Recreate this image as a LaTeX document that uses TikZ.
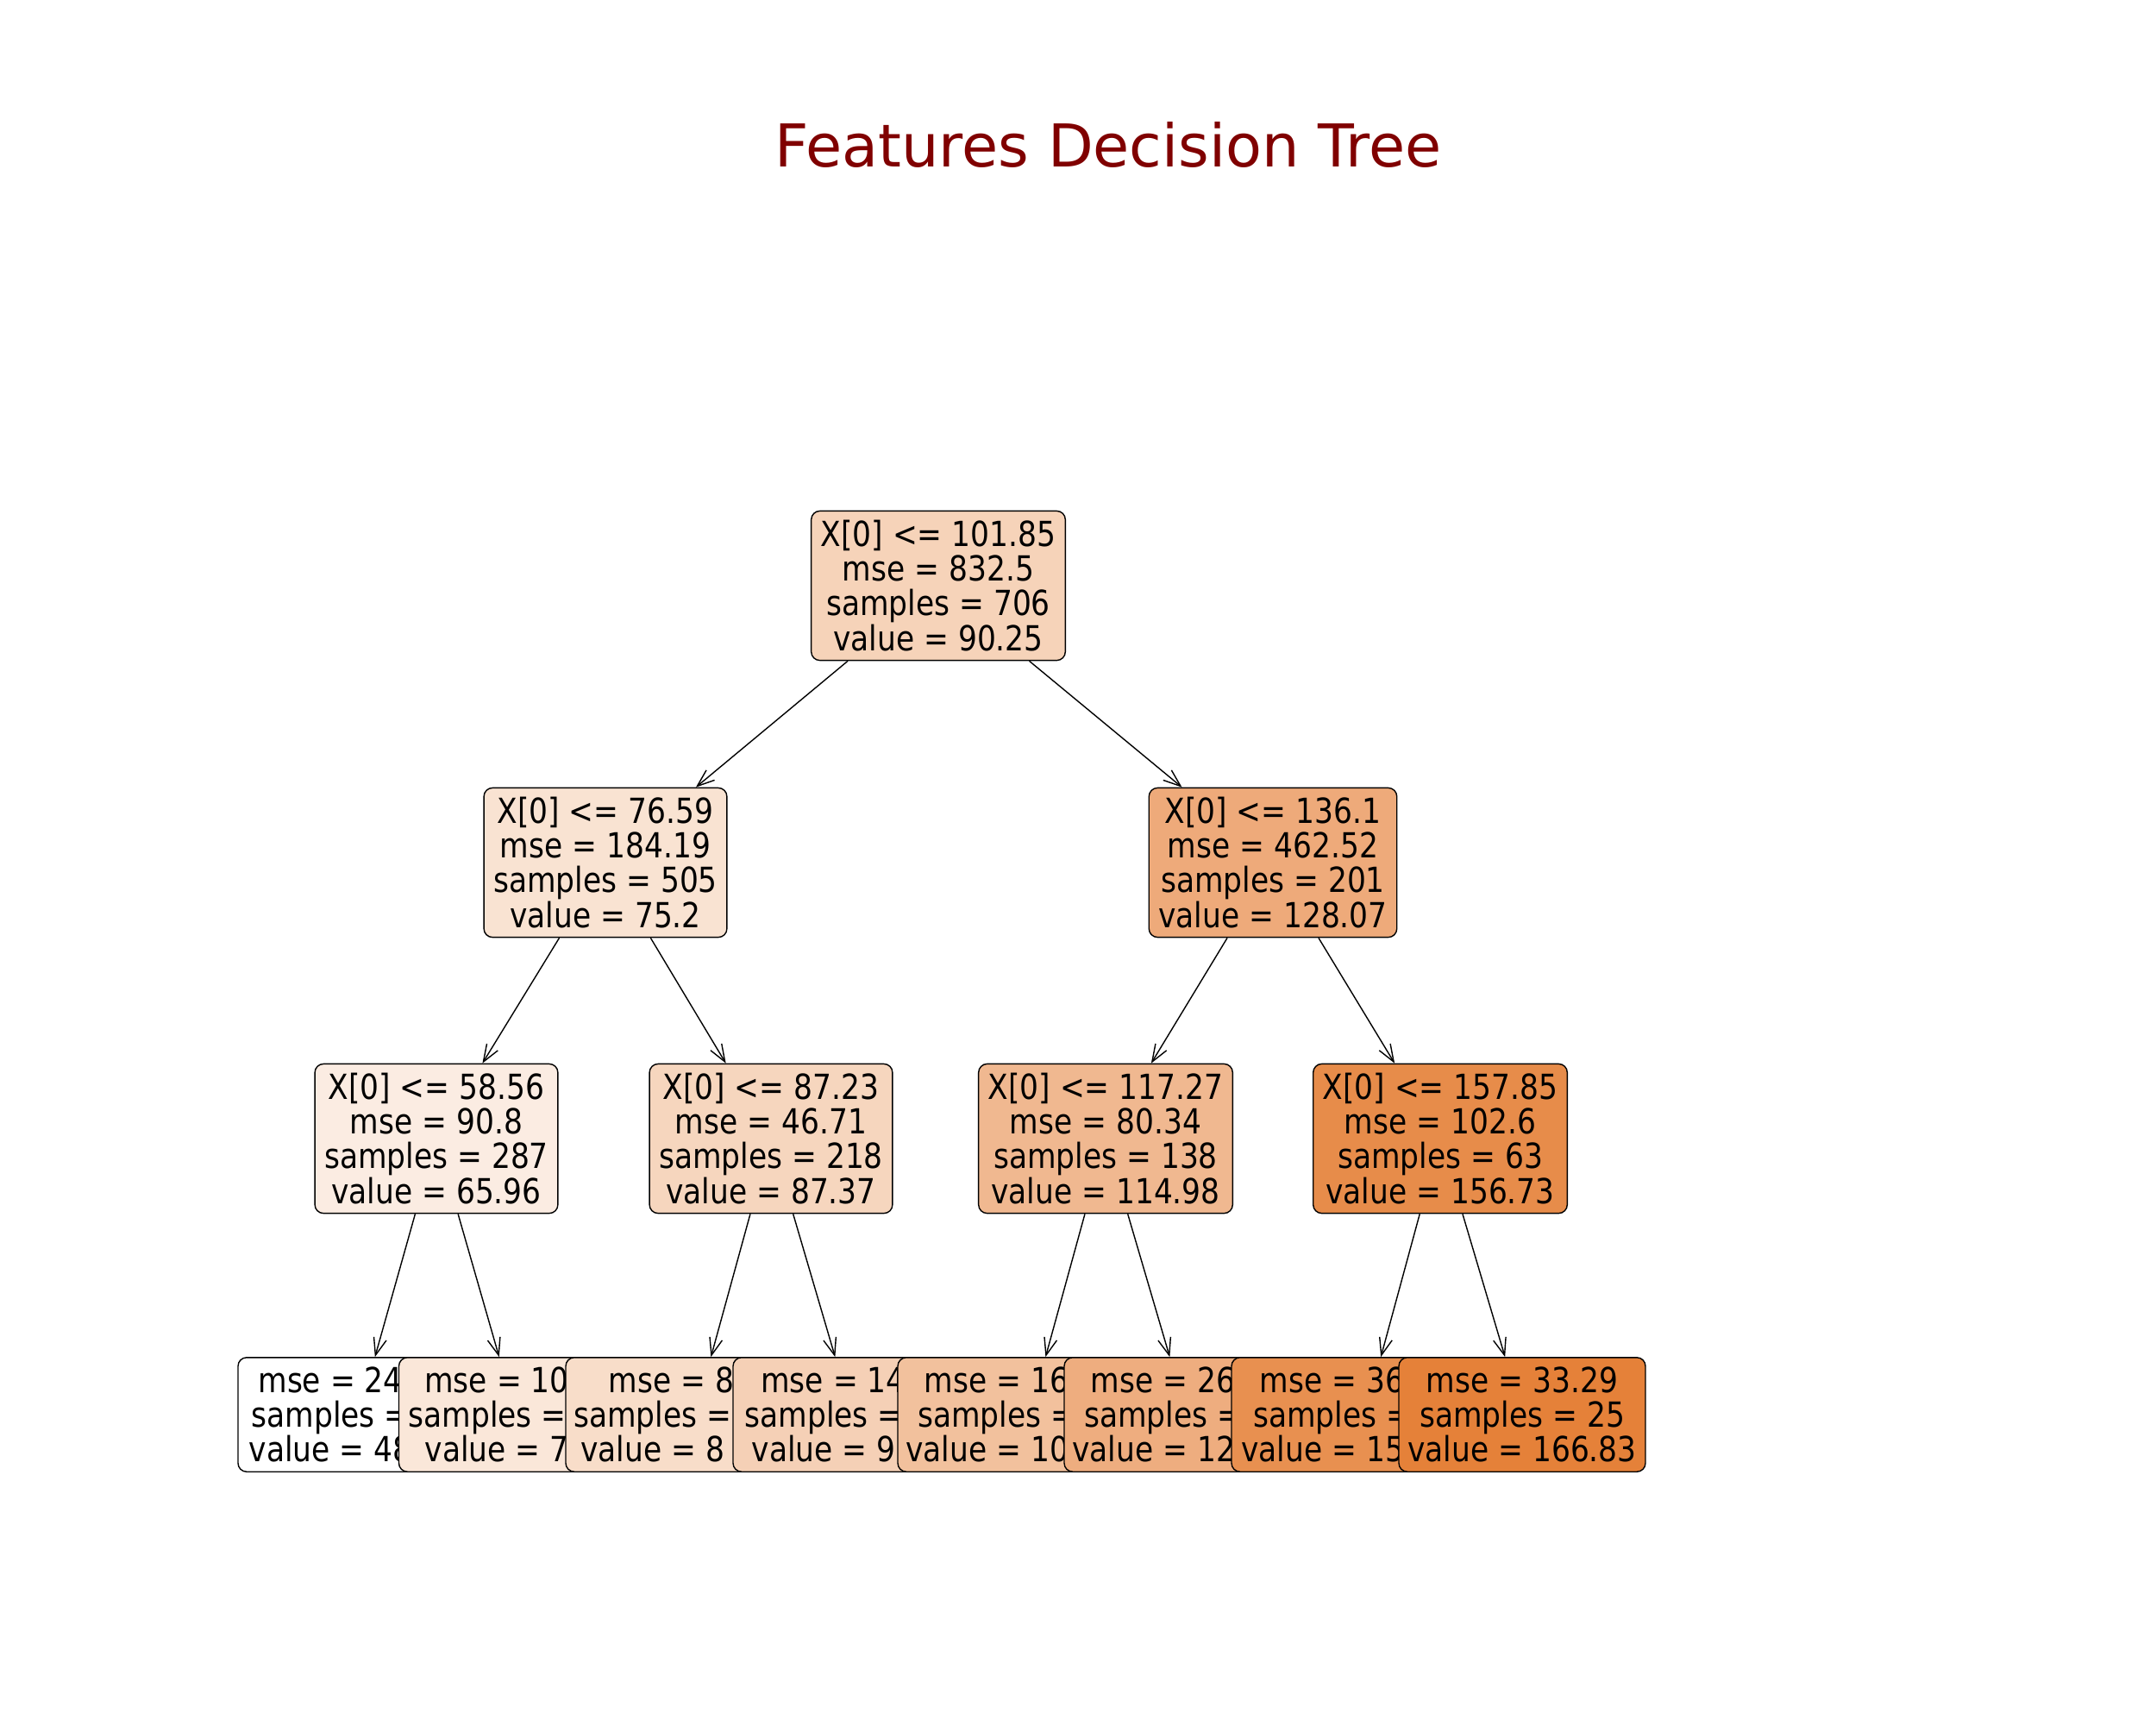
\documentclass[tikz,border=0pt]{standalone}
\usepackage{fontspec}
\setmainfont{DejaVu Sans}
\newfontfamily\treefont{DejaVu Sans}[FakeStretch=0.86]
\usepackage{tikz}
\usetikzlibrary{arrows.meta}
\definecolor{titlered}{RGB}{128,0,0}
\definecolor{cRoot}{RGB}{246,211,185}
\definecolor{cL}{RGB}{249,227,210}
\definecolor{cR}{RGB}{238,170,122}
\definecolor{cLL}{RGB}{251,236,226}
\definecolor{cLR}{RGB}{246,214,190}
\definecolor{cRL}{RGB}{240,184,144}
\definecolor{cRR}{RGB}{231,140,74}
\definecolor{cLfOne}{RGB}{255,255,255}
\definecolor{cLfTwo}{RGB}{250,231,217}
\definecolor{cLfThree}{RGB}{248,221,201}
\definecolor{cLfFour}{RGB}{245,208,182}
\definecolor{cLfFive}{RGB}{242,193,157}
\definecolor{cLfSix}{RGB}{238,173,127}
\definecolor{cLfSeven}{RGB}{232,144,80}
\definecolor{cLfEight}{RGB}{229,129,57}

\begin{document}
\begin{tikzpicture}[
		splitbox/.style={draw=black, line width=0.4pt, rounded corners=0.1cm, align=center, inner xsep=0.11cm, inner ysep=0.11cm, font=\treefont\fontsize{11.4}{11.4}\selectfont},
		leafbox/.style={splitbox, inner xsep=0.04cm},
		>={Straight Barb[length=0.2cm,width=0.15cm]}
	]
			\useasboundingbox (0,0) rectangle (25,-20);
			\node[font=\fontsize{19.5}{23}\selectfont, text=titlered, anchor=base] (title) at (12.85,-1.93) {Features Decision Tree};
			\node[splitbox, fill=cRoot] (root) at (10.88,-6.79) {X[0] <= 101.85\\mse = 832.5\\samples = 706\\value = 90.25};
			\node[splitbox, fill=cL] (nL) at (7.02,-10.0) {X[0] <= 76.59\\mse = 184.19\\samples = 505\\value = 75.2};
			\node[splitbox, fill=cR] (nR) at (14.76,-10.0) {X[0] <= 136.1\\mse = 462.52\\samples = 201\\value = 128.07};
			\node[splitbox, fill=cLL] (nLL) at (5.06,-13.2) {X[0] <= 58.56\\mse = 90.8\\samples = 287\\value = 65.96};
			\node[splitbox, fill=cLR] (nLR) at (8.94,-13.2) {X[0] <= 87.23\\mse = 46.71\\samples = 218\\value = 87.37};
			\node[splitbox, fill=cRL] (nRL) at (12.82,-13.2) {X[0] <= 117.27\\mse = 80.34\\samples = 138\\value = 114.98};
			\node[splitbox, fill=cRR] (nRR) at (16.70,-13.2) {X[0] <= 157.85\\mse = 102.6\\samples = 63\\value = 156.73};
			\node[leafbox, fill=cLfOne, minimum width=2.80cm] (lf1) at (4.16,-16.40) {mse = 24\phantom{000}\\samples = \phantom{0.0}\\value = 48\phantom{000}};
			\node[leafbox, fill=cLfTwo, minimum width=2.71cm] (lf2) at (5.98,-16.40) {mse = 10\phantom{00}\\samples = \phantom{0.0}\\value = 7\phantom{00}};
			\node[leafbox, fill=cLfThree, minimum width=3.00cm] (lf3) at (8.06,-16.40) {mse = 8\phantom{0.0}\\samples = \phantom{0000}\\value = 8\phantom{00.00}};
			\node[leafbox, fill=cLfFour, minimum width=2.76cm] (lf4) at (9.88,-16.40) {mse = 14\phantom{00}\\samples = \phantom{0.0}\\value = 9\phantom{000}};
			\node[leafbox, fill=cLfFive, minimum width=3.06cm] (lf5) at (11.94,-16.40) {mse = 16\phantom{0.00}\\samples = \phantom{000}\\value = 10\phantom{00.00}};
			\node[leafbox, fill=cLfSix, minimum width=2.84cm] (lf6) at (13.76,-16.40) {mse = 26\phantom{0.0}\\samples = \phantom{00}\\value = 12\phantom{0.00}};
			\node[leafbox, fill=cLfSeven, minimum width=3.10cm] (lf7) at (15.83,-16.40) {mse = 36\phantom{0.00}\\samples = \phantom{000}\\value = 15\phantom{00.00}};
			\node[leafbox, fill=cLfEight, minimum width=2.86cm] (lf8) at (17.65,-16.40) {mse = 33.29\\samples = 25\\value = 166.83};
			\draw[->] (root) -- (nL);
			\draw[->] (root) -- (nR);
			\draw[->] (nL) -- (nLL);
			\draw[->] (nL) -- (nLR);
			\draw[->] (nR) -- (nRL);
			\draw[->] (nR) -- (nRR);
			\draw[->] (nLL) -- (lf1);
			\draw[->] (nLL) -- (lf2);
			\draw[->] (nLR) -- (lf3);
			\draw[->] (nLR) -- (lf4);
			\draw[->] (nRL) -- (lf5);
			\draw[->] (nRL) -- (lf6);
			\draw[->] (nRR) -- (lf7);
			\draw[->] (nRR) -- (lf8);
		\end{tikzpicture}
\end{document}
